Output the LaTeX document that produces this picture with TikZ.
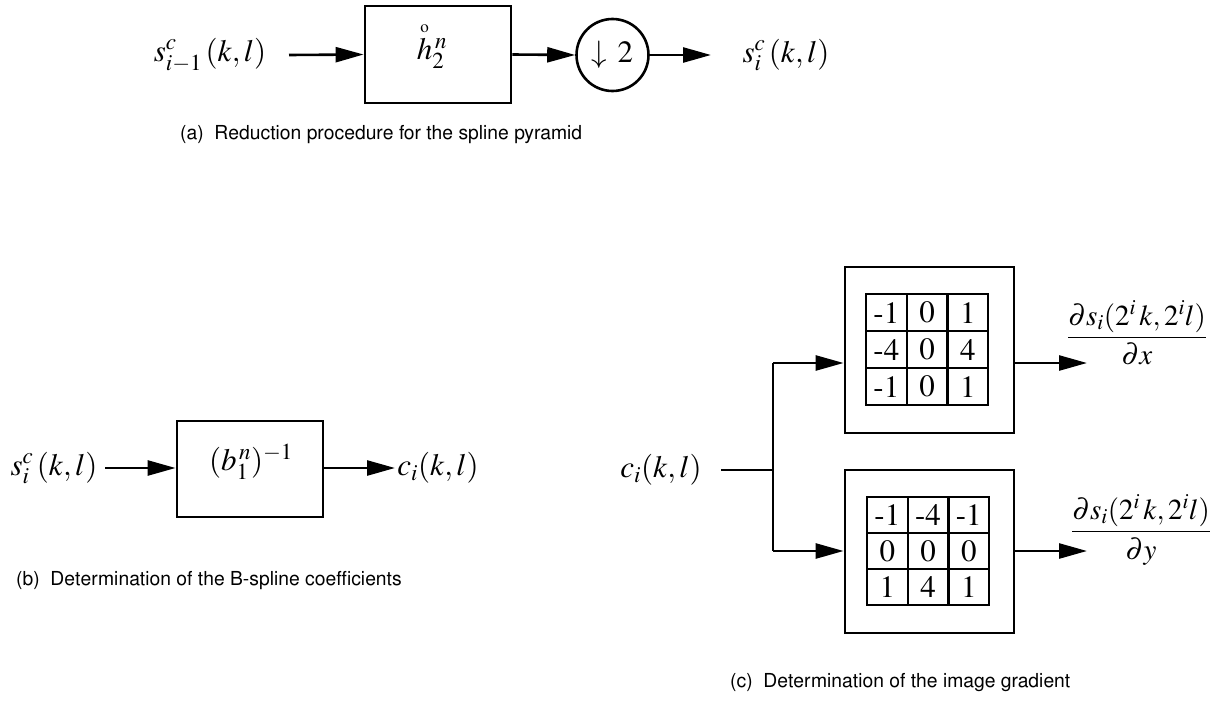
\documentclass[tikz,border=0pt]{standalone}
\usepackage[T1]{fontenc}
\usepackage{mathptmx}
\usepackage{amsmath}
\usetikzlibrary{arrows.meta}

\begin{document}
\begin{tikzpicture}[x=1pt,y=-1pt,
  lbl/.style={inner sep=0pt, font=\fontsize{31}{35}\selectfont},
  frac/.style={inner sep=0pt, font=\fontsize{29}{33}\selectfont},
  blk/.style={draw, line width=2.8pt, inner sep=0pt},
  sig/.style={line width=2.6pt, -{Triangle[length=28pt,width=15pt]}},
  wire/.style={line width=2.6pt},
  cell/.style={draw, line width=2.3pt, inner sep=0pt, font=\fontsize{31}{33}\selectfont},
  captxt/.style={anchor=base west, inner sep=0pt, font=\fontfamily{phv}\fontsize{19.3}{21}\selectfont}]
\useasboundingbox (0,0) rectangle (1231,709);

% ---- (a) reduction procedure ----
\node[lbl] (ain) at (210,55) {$s_{i-1}^{c}\,(k,l)$};
\coordinate (ain0) at (289,55);
\node[blk, minimum width=146pt, minimum height=97pt] (hbox) at (438,54.5) {};
\node[lbl] (hlab) at (432,45) {$\overset{\text{\fontsize{17}{17}\selectfont o}}{h}{}_2^{\,n}$};
\node[draw, circle, line width=2.6pt, minimum size=72pt, inner sep=0pt, font=\fontsize{31}{35}\selectfont] (down) at (612.5,55) {$\downarrow\,2$};
\coordinate (aout0) at (711,55);
\node[lbl] (aout) at (786,55) {$s_{i}^{c}\,(k,l)$};
\draw[sig] (ain0) -- (hbox.west);
\draw[sig] (hbox.east) -- (down.west);
\draw[sig] (down.east) -- (aout0);
\node[captxt] (capa) at (180,139) {(a)\ \ Reduction procedure for the spline pyramid};

% ---- (b) B-spline coefficients ----
\node[lbl] (bin) at (54,468) {$s_{i}^{c}\,(k,l)$};
\coordinate (bin0) at (105,468);
\node[blk, minimum width=146pt, minimum height=96pt] (bbox) at (250,469) {};
\node[lbl] (blab) at (251,462) {$(b_1^{\,n})^{-1}$};
\coordinate (bout0) at (395,468);
\node[lbl] (bout) at (438,468) {$c_{i}(k,l)$};
\draw[sig] (bin0) -- (bbox.west |- bin0);
\draw[sig] (bbox.east |- bout0) -- (bout0);
\node[captxt] (capb) at (16,585) {(b)\ \ Determination of the B-spline coefficients};

% ---- (c) image gradient ----
\node[lbl] (cin) at (661,470) {$c_{i}(k,l)$};
\coordinate (cw) at (721,470);
\coordinate (split) at (773,470);
\coordinate (upin) at (773,363);
\coordinate (loin) at (773,551);
\node[blk, minimum width=169pt, minimum height=166pt] (gx) at (929.5,350) {};
\node[blk, minimum width=169pt, minimum height=163pt] (gy) at (929.5,551.5) {};
\draw[wire] (cw) -- (split);
\draw[wire] (upin) -- (loin);
\draw[sig] (upin) -- (upin -| gx.west);
\draw[sig] (loin) -- (loin -| gy.west);

% 3x3 kernels
\foreach \r/\a/\b/\c [count=\i from 0] in {0/-1/0/1, 1/-4/0/4, 2/-1/0/1}{
  \node[cell, minimum width=40.7pt, minimum height=37pt] (kx\i a) at (886.35,312.5+37*\i) {\a};
  \node[cell, minimum width=40.7pt, minimum height=37pt] (kx\i b) at (927.05,312.5+37*\i) {\b};
  \node[cell, minimum width=40.7pt, minimum height=37pt] (kx\i c) at (967.75,312.5+37*\i) {\c};
}
\foreach \r/\a/\b/\c [count=\i from 0] in {0/-1/-4/-1, 1/0/0/0, 2/1/4/1}{
  \node[cell, minimum width=40.7pt, minimum height=36pt] (ky\i a) at (887.35,515+36*\i) {\a};
  \node[cell, minimum width=40.7pt, minimum height=36pt] (ky\i b) at (928.05,515+36*\i) {\b};
  \node[cell, minimum width=40.7pt, minimum height=36pt] (ky\i c) at (968.75,515+36*\i) {\c};
}

\coordinate (xout) at (1087,363);
\coordinate (yout) at (1087,551);
\draw[sig] (gx.east |- xout) -- (xout);
\draw[sig] (gy.east |- yout) -- (yout);
\node[frac] (dx) at (1137,333) {$\dfrac{\partial s_i(2^i\,k, 2^i l)}{\partial x}$};
\node[frac] (dy) at (1141,530) {$\dfrac{\partial s_i(2^i\,k, 2^i l)}{\partial y}$};
\node[captxt] (capc) at (730,687) {(c)\ \ Determination of the image gradient};
\end{tikzpicture}
\end{document}
